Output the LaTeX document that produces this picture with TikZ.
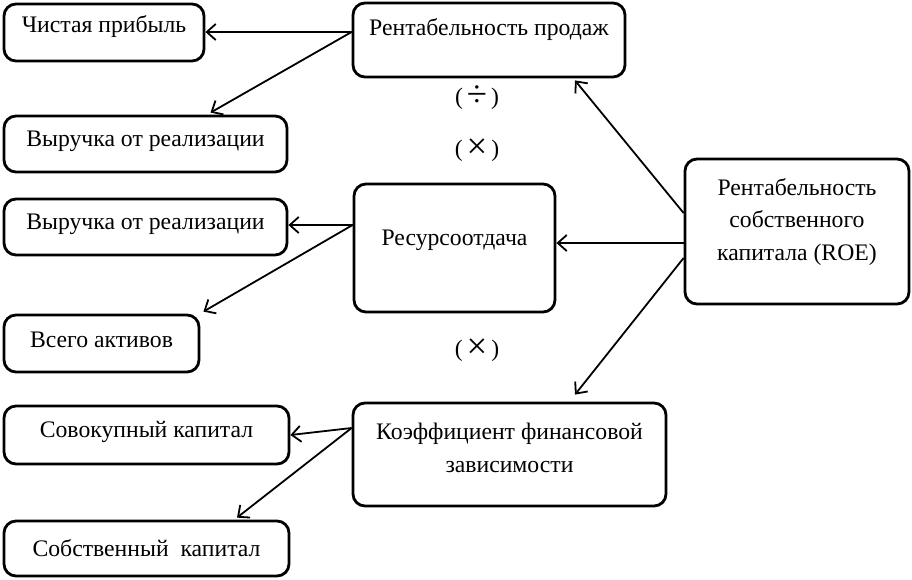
\documentclass[tikz,border=0pt]{standalone}
\usepackage{graphicx}
\usepackage{fontspec}
\setmainfont{Liberation Serif}
\usetikzlibrary{arrows.meta}
\newcommand{\bigop}[1]{\raisebox{-2.2pt}{\scalebox{1.55}{#1}}}
\begin{document}
\begin{tikzpicture}[x=1pt,y=-1pt,
  box/.style={draw, line width=2.8pt, rounded corners=12pt, inner sep=0pt},
  txt/.style={inner sep=0pt, align=center, font=\fontsize{23.7}{32.5}\selectfont},
  arr/.style={line width=1.8pt, -{Straight Barb[length=9pt,width=16pt,line width=1.8pt]}}]
\useasboundingbox (0,0) rectangle (912,579);
% boxes
\node[box, minimum width=200, minimum height=57] (np) at (104,32.5) {};
\node[box, minimum width=272, minimum height=74] (rp) at (489,40) {};
\node[box, minimum width=283, minimum height=56] (v1) at (145.5,144) {};
\node[box, minimum width=283, minimum height=56] (v2) at (145.5,227) {};
\node[box, minimum width=201, minimum height=128] (ro) at (454.5,248) {};
\node[box, minimum width=195, minimum height=57] (va) at (101.5,343.5) {};
\node[box, minimum width=224, minimum height=145] (roe) at (797,231.5) {};
\node[box, minimum width=285, minimum height=58] (sk) at (146.5,435) {};
\node[box, minimum width=313, minimum height=103] (kf) at (509.5,454.5) {};
\node[box, minimum width=285, minimum height=55] (sb) at (146.5,548.5) {};
% texts
\node[txt] (npt) at (104,27) {Чистая прибыль};
\node[txt] (rpt) at (489,30) {Рентабельность продаж};
\node[txt] (v1t) at (145.5,141) {Выручка от реализации};
\node[txt] (v2t) at (145.5,224) {Выручка от реализации};
\node[txt] (rot) at (454.5,240) {Ресурсоотдача};
\node[txt] (vat) at (101.5,340) {Всего активов};
\node[txt] (roet) at (797,222) {Рентабельность\\собственного\\капитала (ROE)};
\node[txt] (skt) at (146.5,432) {Совокупный капитал};
\node[txt] (kft) at (509.5,448) {Коэффициент финансовой\\зависимости};
\node[txt] (sbt) at (146.5,548) {Собственный\ \ капитал};
% operators
\node[txt] (op1) at (477,98) {(\,\bigop{÷}\,)};
\node[txt] (op2) at (477,150) {(\,\bigop{×}\,)};
\node[txt] (op3) at (477,350) {(\,\bigop{×}\,)};
% connectors
\draw[arr] ([yshift=8pt]rp.west) -- ([yshift=8pt]rp.west -| np.east);
\draw[arr] ([yshift=8pt]rp.west) -- ([xshift=65pt,yshift=2pt]v1.north);
\draw[arr] ([yshift=18.5pt]roe.west) -- ([xshift=86pt,yshift=-2pt]rp.south);
\draw[arr] ([yshift=-11.5pt]roe.west) -- ([yshift=-11.5pt]roe.west -| ro.east);
\draw[arr] ([yshift=-26.5pt]roe.west) -- ([xshift=65.5pt,yshift=7pt]kf.north);
\draw[arr] ([yshift=23pt]ro.west) -- ([yshift=23pt]ro.west -| v2.east);
\draw[arr] ([yshift=23pt]ro.west) -- ([xshift=3pt,yshift=2pt]va.north east);
\draw[arr] ([yshift=26.5pt]kf.west) -- (sk.east);
\draw[arr] ([yshift=26.5pt]kf.west) -- ([xshift=90.5pt,yshift=2pt]sb.north);
\end{tikzpicture}
\end{document}
